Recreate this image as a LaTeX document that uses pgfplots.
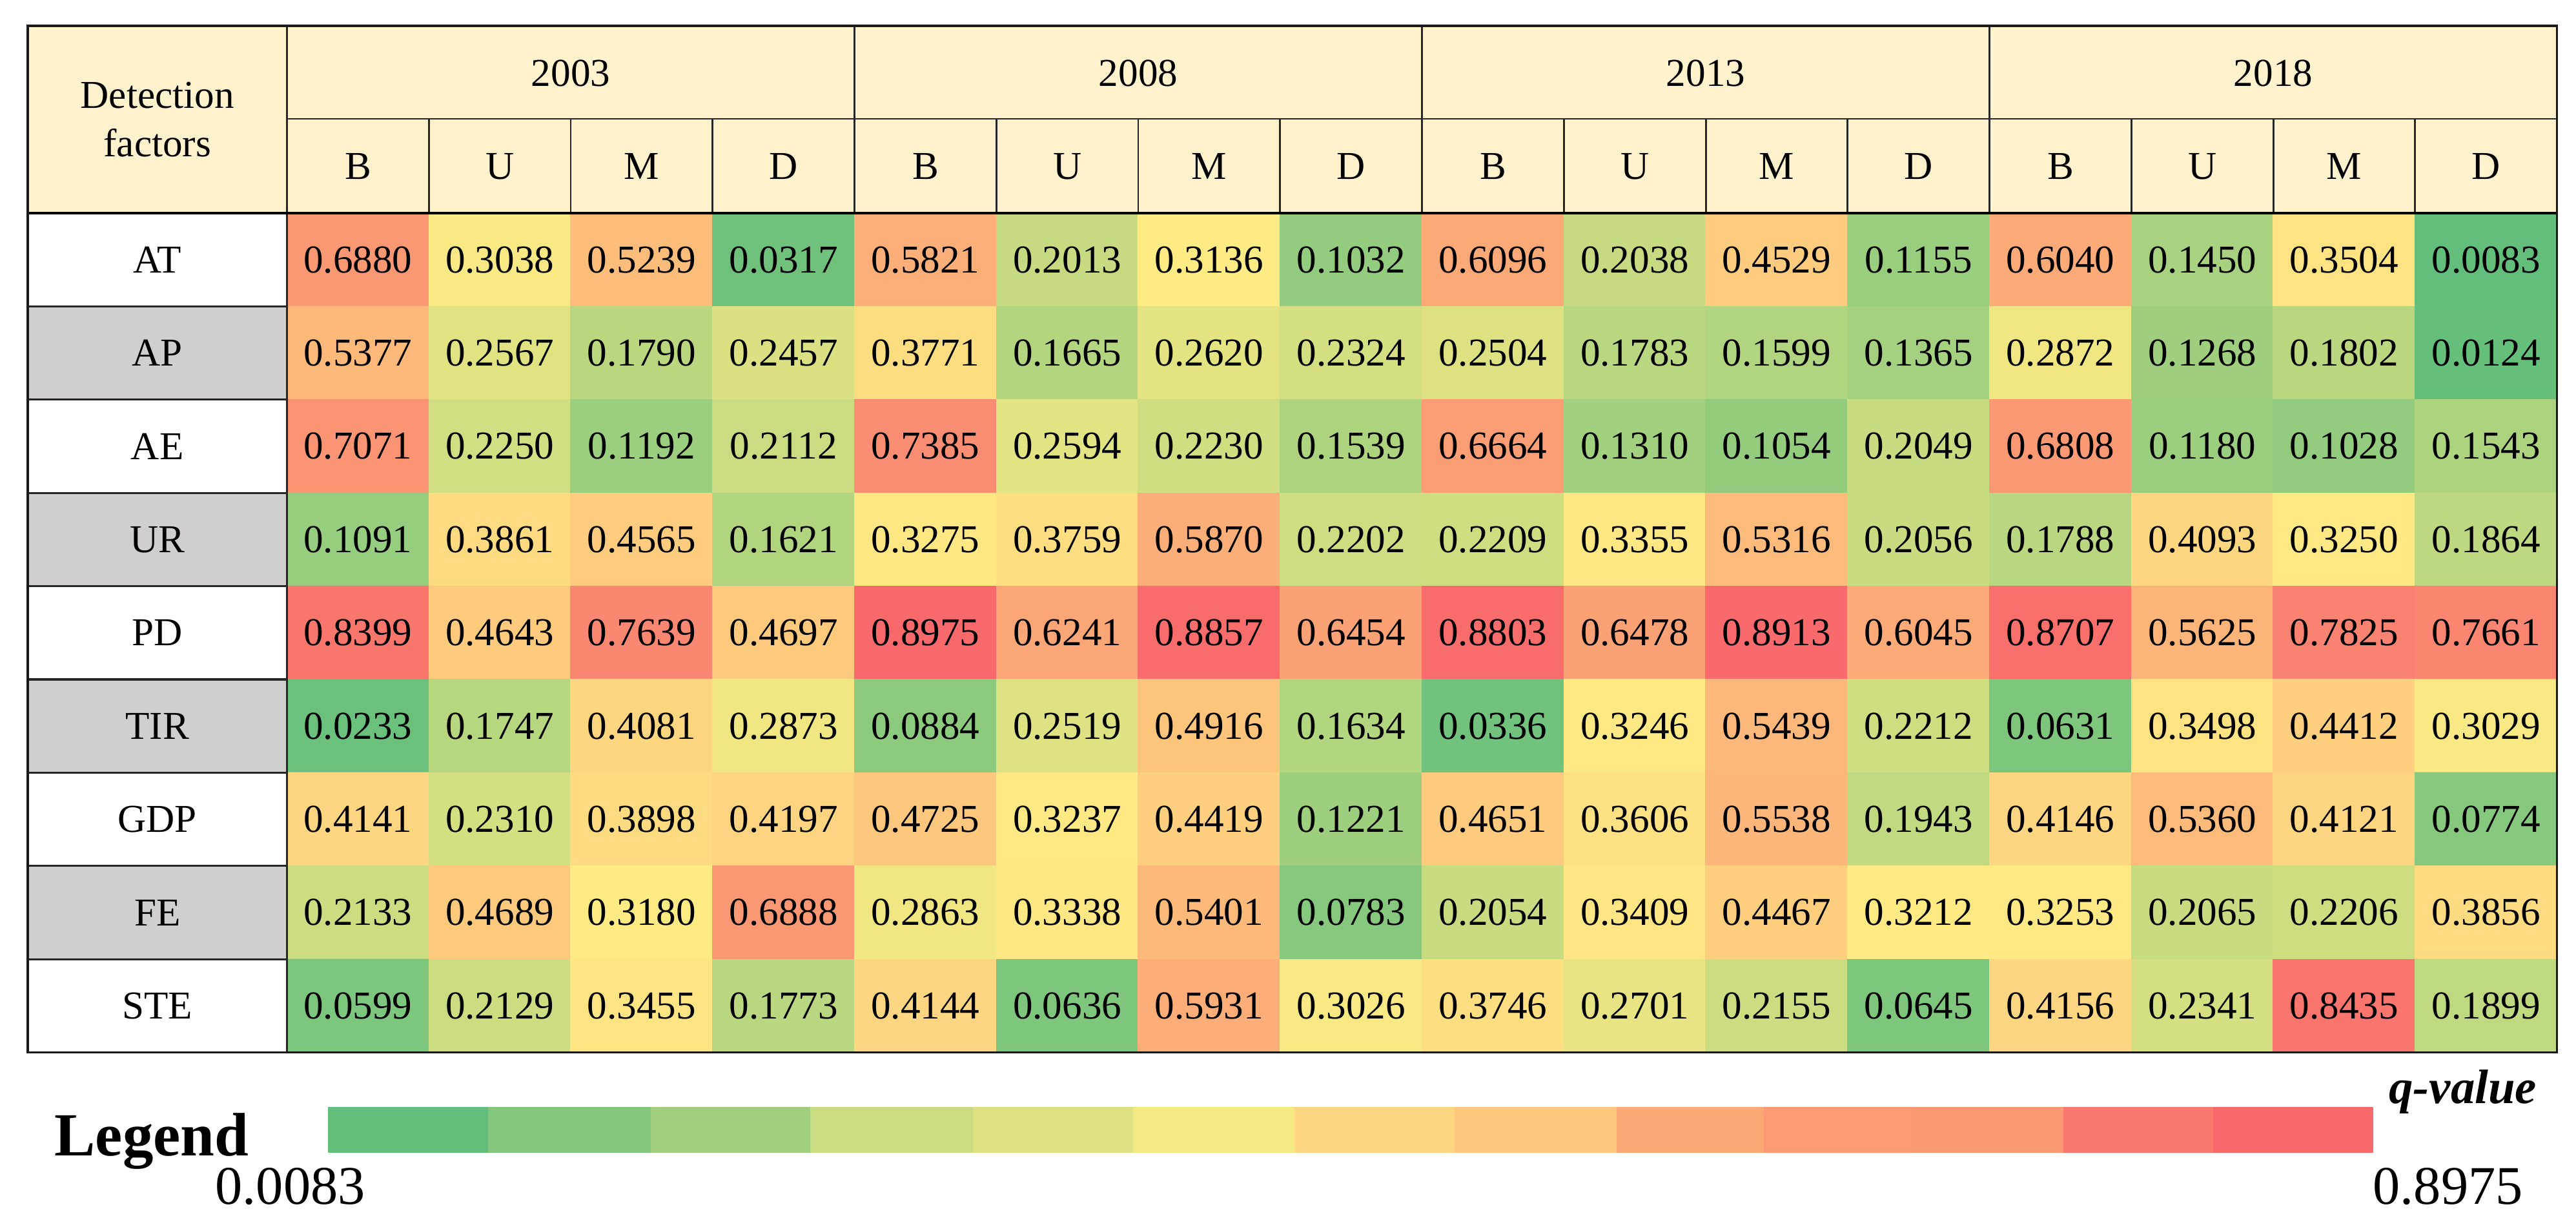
\documentclass[border=0pt]{standalone}
\usepackage{fontspec}
\setmainfont{Liberation Serif}
\usepackage{pgfplots}
\usepackage{pgfplotstable}
\pgfplotsset{compat=1.18}

\definecolor{hdr}{HTML}{FFF2CC}
\definecolor{rowgray}{HTML}{D0CECE}
\newcommand\cellfont{\fontsize{17.4}{21.3}\selectfont}

% q-values: c = column (B,U,M,D x 2003..2018), r = detection factor
\pgfplotstableread[row sep=\\]{
c r q\\
0 0 0.6880\\ 1 0 0.3038\\ 2 0 0.5239\\ 3 0 0.0317\\ 4 0 0.5821\\ 5 0 0.2013\\ 6 0 0.3136\\ 7 0 0.1032\\ 8 0 0.6096\\ 9 0 0.2038\\ 10 0 0.4529\\ 11 0 0.1155\\ 12 0 0.6040\\ 13 0 0.1450\\ 14 0 0.3504\\ 15 0 0.0083\\
0 1 0.5377\\ 1 1 0.2567\\ 2 1 0.1790\\ 3 1 0.2457\\ 4 1 0.3771\\ 5 1 0.1665\\ 6 1 0.2620\\ 7 1 0.2324\\ 8 1 0.2504\\ 9 1 0.1783\\ 10 1 0.1599\\ 11 1 0.1365\\ 12 1 0.2872\\ 13 1 0.1268\\ 14 1 0.1802\\ 15 1 0.0124\\
0 2 0.7071\\ 1 2 0.2250\\ 2 2 0.1192\\ 3 2 0.2112\\ 4 2 0.7385\\ 5 2 0.2594\\ 6 2 0.2230\\ 7 2 0.1539\\ 8 2 0.6664\\ 9 2 0.1310\\ 10 2 0.1054\\ 11 2 0.2049\\ 12 2 0.6808\\ 13 2 0.1180\\ 14 2 0.1028\\ 15 2 0.1543\\
0 3 0.1091\\ 1 3 0.3861\\ 2 3 0.4565\\ 3 3 0.1621\\ 4 3 0.3275\\ 5 3 0.3759\\ 6 3 0.5870\\ 7 3 0.2202\\ 8 3 0.2209\\ 9 3 0.3355\\ 10 3 0.5316\\ 11 3 0.2056\\ 12 3 0.1788\\ 13 3 0.4093\\ 14 3 0.3250\\ 15 3 0.1864\\
0 4 0.8399\\ 1 4 0.4643\\ 2 4 0.7639\\ 3 4 0.4697\\ 4 4 0.8975\\ 5 4 0.6241\\ 6 4 0.8857\\ 7 4 0.6454\\ 8 4 0.8803\\ 9 4 0.6478\\ 10 4 0.8913\\ 11 4 0.6045\\ 12 4 0.8707\\ 13 4 0.5625\\ 14 4 0.7825\\ 15 4 0.7661\\
0 5 0.0233\\ 1 5 0.1747\\ 2 5 0.4081\\ 3 5 0.2873\\ 4 5 0.0884\\ 5 5 0.2519\\ 6 5 0.4916\\ 7 5 0.1634\\ 8 5 0.0336\\ 9 5 0.3246\\ 10 5 0.5439\\ 11 5 0.2212\\ 12 5 0.0631\\ 13 5 0.3498\\ 14 5 0.4412\\ 15 5 0.3029\\
0 6 0.4141\\ 1 6 0.2310\\ 2 6 0.3898\\ 3 6 0.4197\\ 4 6 0.4725\\ 5 6 0.3237\\ 6 6 0.4419\\ 7 6 0.1221\\ 8 6 0.4651\\ 9 6 0.3606\\ 10 6 0.5538\\ 11 6 0.1943\\ 12 6 0.4146\\ 13 6 0.5360\\ 14 6 0.4121\\ 15 6 0.0774\\
0 7 0.2133\\ 1 7 0.4689\\ 2 7 0.3180\\ 3 7 0.6888\\ 4 7 0.2863\\ 5 7 0.3338\\ 6 7 0.5401\\ 7 7 0.0783\\ 8 7 0.2054\\ 9 7 0.3409\\ 10 7 0.4467\\ 11 7 0.3212\\ 12 7 0.3253\\ 13 7 0.2065\\ 14 7 0.2206\\ 15 7 0.3856\\
0 8 0.0599\\ 1 8 0.2129\\ 2 8 0.3455\\ 3 8 0.1773\\ 4 8 0.4144\\ 5 8 0.0636\\ 6 8 0.5931\\ 7 8 0.3026\\ 8 8 0.3746\\ 9 8 0.2701\\ 10 8 0.2155\\ 11 8 0.0645\\ 12 8 0.4156\\ 13 8 0.2341\\ 14 8 0.8435\\ 15 8 0.1899\\
}\qtab

% legend bar: 13 blocks, corners and the q-value that gives each block its colour
\pgfplotstableread[row sep=\\]{
x y v\\
-0.206 9.091 0.0083\\ 0.922 9.091 0.0083\\ 0.922 9.569 0.0083\\ -0.206 9.569 0.0083\\
0.922 9.091 0.0695\\ 2.065 9.091 0.0695\\ 2.065 9.569 0.0695\\ 0.922 9.569 0.0695\\
2.065 9.091 0.1286\\ 3.189 9.091 0.1286\\ 3.189 9.569 0.1286\\ 2.065 9.569 0.1286\\
3.189 9.091 0.2114\\ 4.336 9.091 0.2114\\ 4.336 9.569 0.2114\\ 3.189 9.569 0.2114\\
4.336 9.091 0.2489\\ 5.465 9.091 0.2489\\ 5.465 9.569 0.2489\\ 4.336 9.569 0.2489\\
5.465 9.091 0.2943\\ 6.603 9.091 0.2943\\ 6.603 9.569 0.2943\\ 5.465 9.569 0.2943\\
6.603 9.091 0.4143\\ 7.732 9.091 0.4143\\ 7.732 9.569 0.4143\\ 6.603 9.569 0.4143\\
7.732 9.091 0.4770\\ 8.874 9.091 0.4770\\ 8.874 9.569 0.4770\\ 7.732 9.569 0.4770\\
8.874 9.091 0.6155\\ 9.912 9.091 0.6155\\ 9.912 9.569 0.6155\\ 8.874 9.569 0.6155\\
9.912 9.091 0.6782\\ 10.954 9.091 0.6782\\ 10.954 9.569 0.6782\\ 9.912 9.569 0.6782\\
10.954 9.091 0.6850\\ 12.024 9.091 0.6850\\ 12.024 9.569 0.6850\\ 10.954 9.569 0.6850\\
12.024 9.091 0.8306\\ 13.080 9.091 0.8306\\ 13.080 9.569 0.8306\\ 12.024 9.569 0.8306\\
13.080 9.091 0.8975\\ 14.200 9.091 0.8975\\ 14.200 9.569 0.8975\\ 13.080 9.569 0.8975\\
}\legtab

\begin{document}
\begin{tikzpicture}
\begin{axis}[
    width=39.9cm, height=18.88cm, scale only axis,
    xmin=-2.523, xmax=15.634,
    ymin=-2.785, ymax=10.289, y dir=reverse,
    axis lines=none, clip=false,
    colormap={excel}{rgb255(0pt)=(99,190,123); rgb255(346pt)=(255,235,132); rgb255(1000pt)=(248,105,107)},
    point meta min=0.0083, point meta max=0.8975,
]
\path (rel axis cs:0,0) rectangle (rel axis cs:1,1);

%% header and first column backgrounds
\fill[hdr] (axis cs:-2.328,-2.508) rectangle (axis cs:15.5,-0.5);
\fill[rowgray] (axis cs:-2.328,0.5) rectangle (axis cs:-0.5,1.5);
\fill[rowgray] (axis cs:-2.328,2.5) rectangle (axis cs:-0.5,3.5);
\fill[rowgray] (axis cs:-2.328,4.5) rectangle (axis cs:-0.5,5.5);
\fill[rowgray] (axis cs:-2.328,6.5) rectangle (axis cs:-0.5,7.5);

%% heat cells
\addplot[matrix plot*, mesh/cols=16, point meta=explicit] table[x=c, y=r, meta=q] {\qtab};
\addplot[draw=none, mark=none, point meta=explicit symbolic,
    nodes near coords={\pgfplotspointmeta},
    every node near coord/.style={anchor=center, inner sep=0pt, font=\cellfont, text=black}]
    table[x=c, y=r, meta=q] {\qtab};

%% legend bar
\addplot[patch, patch type=rectangle, shader=flat, point meta=explicit] table[x=x, y=y, meta=v] {\legtab};

%% grid lines
\draw[line width=0.8pt, black!85] (axis cs:-0.5,-1.511) -- (axis cs:15.5,-1.511);
\pgfplotsinvokeforeach{0.5,1.5,2.5,4.5,5.5,6.5,8.5,9.5,10.5,12.5,13.5,14.5}{
  \draw[line width=0.8pt, black!85] (axis cs:#1,-1.511) -- (axis cs:#1,-0.5);
}
\pgfplotsinvokeforeach{3.5,7.5,11.5}{
  \draw[line width=0.8pt, black!85] (axis cs:#1,-2.508) -- (axis cs:#1,-0.5);
}
\pgfplotsinvokeforeach{0.5,1.5,2.5,3.5,4.5,5.5,6.5,7.5}{
  \draw[line width=0.9pt, black!85] (axis cs:-2.328,#1) -- (axis cs:-0.5,#1);
}
\draw[line width=0.9pt, black!85] (axis cs:-0.5,-2.508) -- (axis cs:-0.5,8.5);
\draw[line width=1pt] (axis cs:-2.328,-0.5) -- (axis cs:15.5,-0.5);
\draw[line width=1pt, black!90] (axis cs:-2.328,-2.508) rectangle (axis cs:15.5,8.5);

%% header text
\node[font=\cellfont, align=center] at (axis cs:-1.414,-1.504) {Detection\\factors};
\node[font=\cellfont] at (axis cs:1.5,-2.0) {2003};
\node[font=\cellfont] at (axis cs:5.5,-2.0) {2008};
\node[font=\cellfont] at (axis cs:9.5,-2.0) {2013};
\node[font=\cellfont] at (axis cs:13.5,-2.0) {2018};
\pgfplotsinvokeforeach{0,4,8,12}{
  \node[font=\cellfont] at (axis cs:#1,-1.0) {B};
  \node[font=\cellfont] at (axis cs:#1+1,-1.0) {U};
  \node[font=\cellfont] at (axis cs:#1+2,-1.0) {M};
  \node[font=\cellfont] at (axis cs:#1+3,-1.0) {D};
}

%% row names
\node[font=\cellfont] at (axis cs:-1.414,0) {AT};
\node[font=\cellfont] at (axis cs:-1.414,1) {AP};
\node[font=\cellfont] at (axis cs:-1.414,2) {AE};
\node[font=\cellfont] at (axis cs:-1.414,3) {UR};
\node[font=\cellfont] at (axis cs:-1.414,4) {PD};
\node[font=\cellfont] at (axis cs:-1.414,5) {TIR};
\node[font=\cellfont] at (axis cs:-1.414,6) {GDP};
\node[font=\cellfont] at (axis cs:-1.414,7) {FE};
\node[font=\cellfont] at (axis cs:-1.414,8) {STE};

%% legend text
\node[anchor=base west, inner sep=0pt, font=\fontsize{27}{30}\selectfont\bfseries] at (axis cs:-2.141,9.61) {Legend};
\node[anchor=base west, inner sep=0pt, font=\fontsize{21.3}{24}\selectfont\bfseries\itshape] at (axis cs:14.313,9.043) {q-value};
\node[anchor=base west, inner sep=0pt, font=\fontsize{24}{28}\selectfont] at (axis cs:-1.008,10.123) {0.0083};
\node[anchor=base west, inner sep=0pt, font=\fontsize{24}{28}\selectfont] at (axis cs:14.2,10.123) {0.8975};
\end{axis}
\end{tikzpicture}
\end{document}
